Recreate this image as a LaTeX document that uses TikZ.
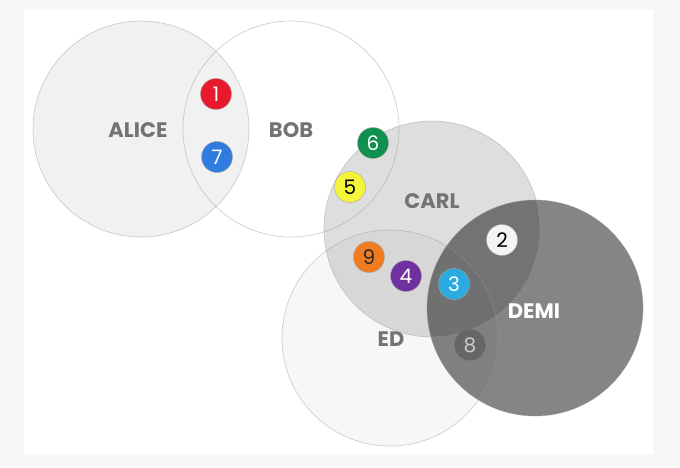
\documentclass[tikz,border=0pt]{standalone}
\usepackage{fontspec}
\setmainfont{Poppins}
\begin{document}
\begin{tikzpicture}[x=1pt,y=-1pt,
  setfill/.style={fill=black,fill opacity=#1,draw=none},
  setline/.style={draw=black!40,draw opacity=0.45,line width=0.7pt},
  setname/.style={font=\fontsize{21}{21}\selectfont\bfseries,text=black!55},
  badge/.style={circle,minimum size=31pt,inner sep=0pt,fill=#1,draw=black!35,line width=0.4pt,
    font=\fontsize{20}{20}\selectfont}]
\definecolor{bgout}{HTML}{F7F7F7}
\definecolor{cred}{HTML}{E8192C}
\definecolor{cblue}{HTML}{2F7BE0}
\definecolor{cgreen}{HTML}{10904F}
\definecolor{cyellow}{HTML}{F4F43A}
\definecolor{corange}{HTML}{F07B21}
\definecolor{cpurple}{HTML}{7030A0}
\definecolor{ccyan}{HTML}{29ABE2}
\definecolor{cwhite}{HTML}{F4F4F4}
\definecolor{cgray}{HTML}{666666}
\useasboundingbox (0,0) rectangle (680,467);
\fill[bgout] (0,0) rectangle (680,467);
\fill[white] (24,10) rectangle (653,454);
% set coordinates
\coordinate (ca) at (141,129);
\coordinate (cb) at (291,129);
\coordinate (cc) at (432,229);
\coordinate (ce) at (390,338);
\coordinate (cd) at (535,308);
% fills
\fill[white] (cb) circle (108);
\fill[setfill=0.055] (ca) circle (108);
\fill[setfill=0.13] (cc) circle (108);
\fill[setfill=0.03] (ce) circle (108);
\fill[setfill=0.48] (cd) circle (108);
% outlines
\draw[setline] (ca) circle (108);
\draw[setline] (cb) circle (108);
\draw[setline] (cc) circle (108);
\draw[setline] (ce) circle (108);
\draw[setline] (cd) circle (108);
% names
\node[setname] (alice) at (138,130) {ALICE};
\node[setname] (bob) at (291,130) {BOB};
\node[setname] (carl) at (432,201) {CARL};
\node[setname] (ed) at (391,339) {ED};
\node[setname,text=white] (demi) at (534,311) {DEMI};
% badges
\node[badge=cred,text=white] (n1) at (216,94) {1};
\node[badge=cblue,text=white] (n7) at (217,157) {7};
\node[badge=cgreen,text=white] (n6) at (373,143) {6};
\node[badge=cyellow,text=black] (n5) at (350,187) {5};
\node[badge=corange,text=black!85] (n9) at (369,257) {9};
\node[badge=cpurple,text=white] (n4) at (406,276) {4};
\node[badge=ccyan,text=white] (n3) at (454,284) {3};
\node[badge=cwhite,text=black] (n2) at (502,240) {2};
\node[badge=cgray,draw=none,text=black!20] (n8) at (470,345) {8};
\end{tikzpicture}
\end{document}
